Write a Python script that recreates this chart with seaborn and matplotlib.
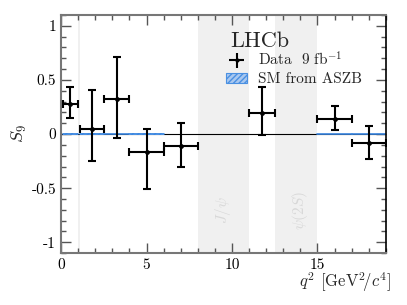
import numpy as np
import pandas as pd
import matplotlib
matplotlib.use("Agg")
import matplotlib.pyplot as plt
from matplotlib.ticker import MultipleLocator
from matplotlib.patches import Patch
import seaborn as sns

# Data
bin_lo = [0.1, 1.1, 2.5, 4.0, 6.0, 11.0, 15.0, 17.0]
bin_hi = [0.98, 2.5, 4.0, 6.0, 8.0, 12.5, 17.0, 19.0]
s9 = [0.28, 0.05, 0.32, -0.17, -0.11, 0.19, 0.14, -0.08]
err_up = [0.15, 0.36, 0.39, 0.22, 0.21, 0.24, 0.12, 0.15]
err_dn = [0.13, 0.30, 0.36, 0.34, 0.19, 0.20, 0.10, 0.15]

sm_lo = [0.1, 1.1, 2.5, 4.0, 15.0, 17.0]
sm_hi = [0.98, 2.5, 4.0, 6.0, 17.0, 19.0]
sm_val = [0.0, 0.0, 0.0, 0.0, 0.0, 0.0]
sm_err = [0.008, 0.008, 0.004, 0.008, 0.003, 0.003]

veto_lo = [0.98, 8.0, 12.5]
veto_hi = [1.1, 11.0, 15.0]

sns.set_theme(style="ticks")
plt.rcParams["font.family"] = ["cmr10", "DejaVu Serif"]
plt.rcParams["mathtext.fontset"] = "cm"
plt.rcParams["axes.unicode_minus"] = False
plt.rcParams["axes.formatter.use_mathtext"] = True

fig = plt.figure(figsize=(4.07, 3.05), dpi=100)
ax = fig.add_axes([0.150, 0.170, 0.798, 0.781])

for lo, hi in zip(veto_lo, veto_hi):
    ax.axvspan(lo, hi, color="#f0f0f0", lw=0, zorder=0)

ax.axhline(0, color="black", lw=0.8, zorder=1)

for lo, hi, v, e in zip(sm_lo, sm_hi, sm_val, sm_err):
    ax.fill_between([lo, hi], [v - e] * 2, [v + e] * 2, facecolor="#a9c8f0",
                    edgecolor="#4a90e2", hatch="//////", lw=0, zorder=2)
    ax.plot([lo, hi], [v, v], color="#3a86e0", lw=1.2, zorder=2)

df = pd.DataFrame({
    "x": [(a + b) / 2 for a, b in zip(bin_lo, bin_hi)],
    "xerr": [(b - a) / 2 for a, b in zip(bin_lo, bin_hi)],
    "y": s9, "up": err_up, "dn": err_dn,
})
ax.errorbar(df["x"], df["y"], xerr=df["xerr"], yerr=[df["dn"], df["up"]],
            fmt="none", ecolor="black", elinewidth=1.5, capsize=3, capthick=1.5, zorder=4)
sns.scatterplot(data=df, x="x", y="y", ax=ax, color="black", s=10, marker="o",
                edgecolor="black", zorder=5, legend=False)

ax.set_xlim(0, 19)
ax.set_ylim(-1.1, 1.1)
ax.xaxis.set_major_locator(MultipleLocator(5))
ax.xaxis.set_minor_locator(MultipleLocator(1))
ax.yaxis.set_major_locator(MultipleLocator(0.5))
ax.yaxis.set_minor_locator(MultipleLocator(0.1))
ax.set_yticks([-1, -0.5, 0, 0.5, 1])
ax.set_yticklabels(["-1", "-0.5", "0", "0.5", "1"])
ax.set_xticks([0, 5, 10, 15])
ax.set_xticklabels(["0", "5", "10", "15"])
ax.tick_params(which="both", direction="in", top=True, right=True, labelsize=11,
               colors="#555555", labelcolor="black", width=1)
ax.tick_params(which="major", length=7)
ax.tick_params(which="minor", length=3.5)
for s in ["left", "bottom", "top"]:
    ax.spines[s].set_color("#777777")
    ax.spines[s].set_linewidth(1.5)
ax.spines["right"].set_color("black")
ax.spines["right"].set_linewidth(1.2)

ax.set_ylabel(r"$S_9$", fontsize=13, labelpad=2)
ax.set_xlabel("")
fig.text(0.962, 0.035, r"$q^2$ [GeV$^2\!/c^4$]", fontsize=12, ha="right", va="bottom")

ax.text(9.5, -0.70, r"$J/\psi$", rotation=90, color="#d8d8d8", fontsize=11, ha="center", va="center")
ax.text(14.0, -0.70, r"$\psi(2S)$", rotation=90, color="#d8d8d8", fontsize=11, ha="center", va="center")

ax.text(9.9, 0.86, "LHCb", fontsize=16, ha="left", va="center")
errh = ax.errorbar([], [], xerr=[], yerr=[], fmt="o", color="black", ms=2, elinewidth=1.5, capsize=0)
sm_handle = Patch(facecolor="#a9c8f0", edgecolor="#4a90e2", hatch="//////", lw=0.8)
leg = ax.legend([errh, sm_handle], [r"Data  9 fb$^{-1}$", "SM from ASZB"],
                loc="upper left", bbox_to_anchor=(0.475, 0.895), frameon=False,
                fontsize=11, handlelength=1.4, handletextpad=0.7, labelspacing=0.25,
                borderpad=0.2)

fig.savefig("out.png", dpi=100)
